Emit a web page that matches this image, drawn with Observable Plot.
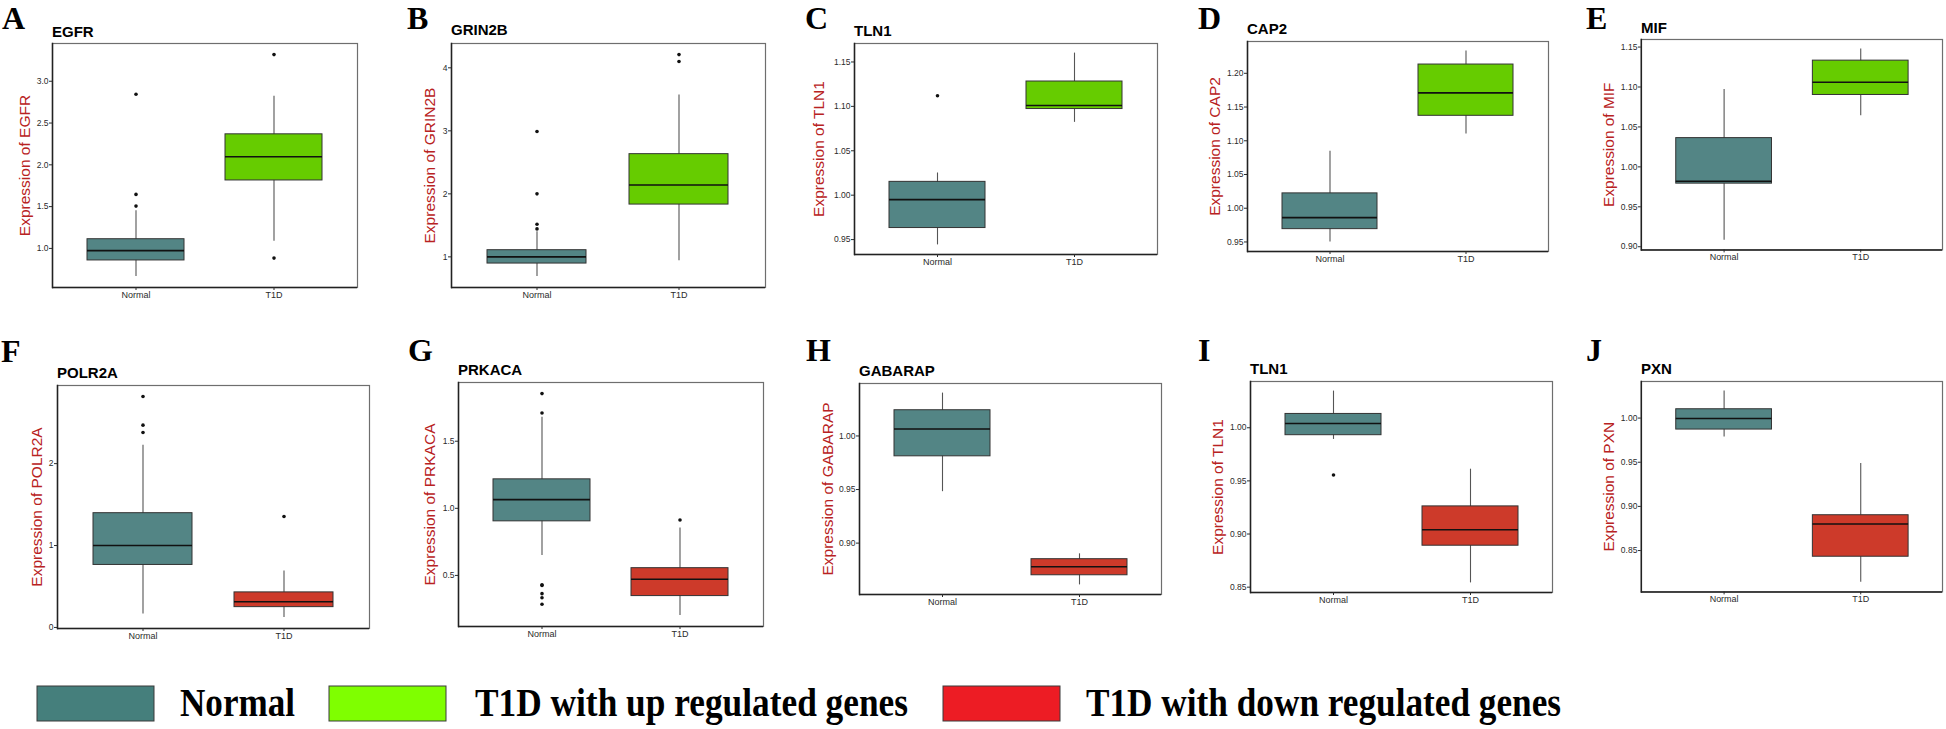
<!DOCTYPE html>
<html>
<head>
<meta charset="utf-8">
<script src="https://cdn.jsdelivr.net/npm/d3@7"></script>
<script src="https://cdn.jsdelivr.net/npm/@observablehq/plot@0.6"></script>
<style>
  html, body { margin: 0; padding: 0; background: #fff; }
  #root { position: relative; width: 1946px; height: 729px; overflow: hidden; background: #fff; }
  .panel { position: absolute; }
  #overlay { position: absolute; left: 0; top: 0; pointer-events: none; }
</style>
</head>
<body>
<div id="root"></div>
<script>
// ---------------- data ----------------
const categories = ["Normal", "T1D"];
const panelLetters = ["A", "B", "C", "D", "E", "F", "G", "H", "I", "J"];
const genes = ["EGFR", "GRIN2B", "TLN1", "CAP2", "MIF", "POLR2A", "PRKACA", "GABARAP", "TLN1", "PXN"];
const regulation = ["up", "up", "up", "up", "up", "down", "down", "down", "down", "down"];

const normalLow    = [0.665, 0.690, 0.944, 0.950, 0.908, 0.163, 0.649, 0.948, 0.989, 0.9785];
const normalQ1     = [0.856, 0.894, 0.963, 0.969, 0.979, 0.763, 0.903, 0.981, 0.993, 0.987];
const normalMedian = [0.973, 1.000, 0.995, 0.986, 0.982, 1.000, 1.065, 1.0065, 1.004, 0.9996];
const normalQ3     = [1.110, 1.106, 1.015, 1.022, 1.036, 1.395, 1.216, 1.024, 1.013, 1.010];
const normalHigh   = [1.450, 1.400, 1.025, 1.0845, 1.097, 2.225, 1.679, 1.040, 1.0345, 1.0306];

const t1dLow    = [1.087, 0.937, 1.082, 1.110, 1.064, 0.122, 0.202, 0.861, 0.854, 0.814];
const t1dQ1     = [1.813, 1.830, 1.097, 1.137, 1.090, 0.248, 0.346, 0.870, 0.889, 0.843];
const t1dMedian = [2.097, 2.140, 1.101, 1.171, 1.106, 0.313, 0.472, 0.878, 0.904, 0.880];
const t1dQ3     = [2.365, 2.630, 1.128, 1.213, 1.133, 0.428, 0.554, 0.885, 0.926, 0.890];
const t1dHigh   = [2.820, 3.570, 1.160, 1.233, 1.1475, 0.688, 0.854, 0.890, 0.961, 0.9485];

const normalOutliers = [
  [2.845, 1.646, 1.506],
  [2.99, 2.0, 1.517, 1.444],
  [1.112],
  [],
  [],
  [2.819, 2.47, 2.38],
  [1.855, 1.71, 0.431, 0.425, 0.364, 0.334, 0.285],
  [],
  [0.9556],
  []
];
const t1dOutliers = [
  [3.319, 0.884],
  [4.21, 4.10],
  [], [], [],
  [1.355],
  [0.913],
  [], [], []
];

const yTicks = [
  [1.0, 1.5, 2.0, 2.5, 3.0],
  [1, 2, 3, 4],
  [0.95, 1.00, 1.05, 1.10, 1.15],
  [0.95, 1.00, 1.05, 1.10, 1.15, 1.20],
  [0.90, 0.95, 1.00, 1.05, 1.10, 1.15],
  [0, 1, 2],
  [0.5, 1.0, 1.5],
  [0.90, 0.95, 1.00],
  [0.85, 0.90, 0.95, 1.00],
  [0.85, 0.90, 0.95, 1.00]
];
const yTickFormats = [".1f", "d", ".2f", ".2f", ".2f", "d", ".1f", ".2f", ".2f", ".2f"];

const legendLabels = ["Normal", "T1D with up regulated genes", "T1D with down regulated genes"];

// ---------------- layout & style ----------------
const layout = [
  {x1: 52,   x2: 357,  y1: 43,  y2: 287, labelDx: -27, titleY: 37,  letterX: 2,    letterY: 29},
  {x1: 451,  x2: 765,  y1: 43,  y2: 287, labelDx: -21, titleY: 35,  letterX: 407,  letterY: 29},
  {x1: 854,  x2: 1157, y1: 43,  y2: 254, labelDx: -35, titleY: 36,  letterX: 805,  letterY: 29},
  {x1: 1247, x2: 1548, y1: 41,  y2: 251, labelDx: -32, titleY: 34,  letterX: 1198, letterY: 29},
  {x1: 1641, x2: 1943, y1: 39,  y2: 250, labelDx: -32, titleY: 33,  letterX: 1586, letterY: 29},
  {x1: 57,   x2: 369,  y1: 385, y2: 628, labelDx: -20, titleY: 378, letterX: 1,    letterY: 362},
  {x1: 458,  x2: 763,  y1: 382, y2: 626, labelDx: -28, titleY: 375, letterX: 408,  letterY: 361},
  {x1: 859,  x2: 1161, y1: 383, y2: 594, labelDx: -31, titleY: 376, letterX: 806,  letterY: 361},
  {x1: 1250, x2: 1552, y1: 381, y2: 592, labelDx: -32, titleY: 374, letterX: 1198, letterY: 361},
  {x1: 1641, x2: 1943, y1: 381, y2: 592, labelDx: -32, titleY: 374, letterX: 1586, letterY: 361}
];
const COLORS = {normal: "#538585", up: "#66cc00", down: "#cd3a2a"};
const LEGEND_COLORS = ["#457f7c", "#7fff00", "#ed1c24"];
const legendLayout = [
  {bx: 37,  tx: 180,  tw: 115},
  {bx: 329, tx: 475,  tw: 433},
  {bx: 943, tx: 1086, tw: 475}
];

const root = document.getElementById("root");
const M = {l: 60, t: 4, r: 4, b: 24};

genes.forEach((gene, i) => {
  const L = layout[i];
  const fw = L.x2 - L.x1, fh = L.y2 - L.y1;
  const stats = [
    {cat: categories[0], lo: normalLow[i], q1: normalQ1[i], med: normalMedian[i], q3: normalQ3[i], hi: normalHigh[i], fill: COLORS.normal},
    {cat: categories[1], lo: t1dLow[i], q1: t1dQ1[i], med: t1dMedian[i], q3: t1dQ3[i], hi: t1dHigh[i], fill: COLORS[regulation[i]]}
  ];
  const outs = [
    ...normalOutliers[i].map(v => ({cat: categories[0], v})),
    ...t1dOutliers[i].map(v => ({cat: categories[1], v}))
  ];
  const vals = [...stats.flatMap(d => [d.lo, d.hi]), ...outs.map(d => d.v)];
  const vmin = d3.min(vals), vmax = d3.max(vals);
  const pad = 0.05 * (vmax - vmin);
  const yDomain = [vmin - pad, vmax + pad];

  const chart = Plot.plot({
    width: fw + M.l + M.r,
    height: fh + M.t + M.b,
    marginLeft: M.l, marginTop: M.t, marginRight: M.r, marginBottom: M.b,
    style: {fontFamily: "'Liberation Sans', Arial, sans-serif", background: "transparent", overflow: "visible"},
    x: {type: "band", domain: categories, paddingInner: 0.3, paddingOuter: 0.25, axis: null},
    y: {domain: yDomain, axis: null},
    color: {type: "identity"},
    marks: [
      Plot.frame({stroke: "#6e6e6e", strokeWidth: 1.2}),
      Plot.ruleY([yDomain[0]], {stroke: "#222", strokeWidth: 1.5}),
      Plot.frame({anchor: "left", stroke: "#222", strokeWidth: 1.5}),
      Plot.axisX({tickSize: 3, tickPadding: 1, fontSize: 9, color: "#2b2b2b", label: null}),
      Plot.axisY({ticks: yTicks[i], tickFormat: d3.format(yTickFormats[i]), tickSize: 3, tickPadding: 1, fontSize: 8.5, color: "#2b2b2b", label: null}),
      Plot.text([`Expression of ${gene}`], {frameAnchor: "left", rotate: -90, dx: L.labelDx, fill: "#b82222", fontSize: 15.5, textAnchor: "middle"}),
      Plot.ruleX(stats, {x: "cat", y1: "lo", y2: "hi", stroke: "#555", strokeWidth: 1.1}),
      Plot.barY(stats, {x: "cat", y1: "q1", y2: "q3", fill: "fill", stroke: "#333", strokeWidth: 1}),
      Plot.tickY(stats, {x: "cat", y: "med", stroke: "#111", strokeWidth: 1.6}),
      Plot.dot(outs, {x: "cat", y: "v", r: 1.8, fill: "#111", stroke: null})
    ]
  });
  const wrap = document.createElement("div");
  wrap.className = "panel";
  wrap.style.left = (L.x1 - M.l) + "px";
  wrap.style.top = (L.y1 - M.t) + "px";
  wrap.appendChild(chart);
  root.appendChild(wrap);
});

// overlay: panel letters, titles, legend
const svg = d3.select(root).append("svg")
  .attr("id", "overlay").attr("width", 1946).attr("height", 729);

genes.forEach((gene, i) => {
  const L = layout[i];
  svg.append("text").attr("x", L.letterX).attr("y", L.letterY)
    .attr("font-family", "'Liberation Serif', 'Times New Roman', serif")
    .attr("font-weight", "bold").attr("font-size", 32).attr("fill", "#000")
    .text(panelLetters[i]);
  svg.append("text").attr("x", L.x1).attr("y", L.titleY)
    .attr("font-family", "'Liberation Sans', Arial, sans-serif")
    .attr("font-weight", "bold").attr("font-size", 15).attr("fill", "#000")
    .text(gene);
});

legendLabels.forEach((lab, k) => {
  const G = legendLayout[k];
  svg.append("rect").attr("x", G.bx).attr("y", 686).attr("width", 117).attr("height", 35)
    .attr("fill", LEGEND_COLORS[k]).attr("stroke", "#3a3a3a").attr("stroke-width", 1);
  svg.append("text").attr("x", G.tx).attr("y", 716)
    .attr("font-family", "'Liberation Serif', 'Times New Roman', serif")
    .attr("font-weight", "bold").attr("font-size", 41).attr("fill", "#000")
    .attr("textLength", G.tw).attr("lengthAdjust", "spacingAndGlyphs")
    .text(lab);
});
</script>
</body>
</html>
